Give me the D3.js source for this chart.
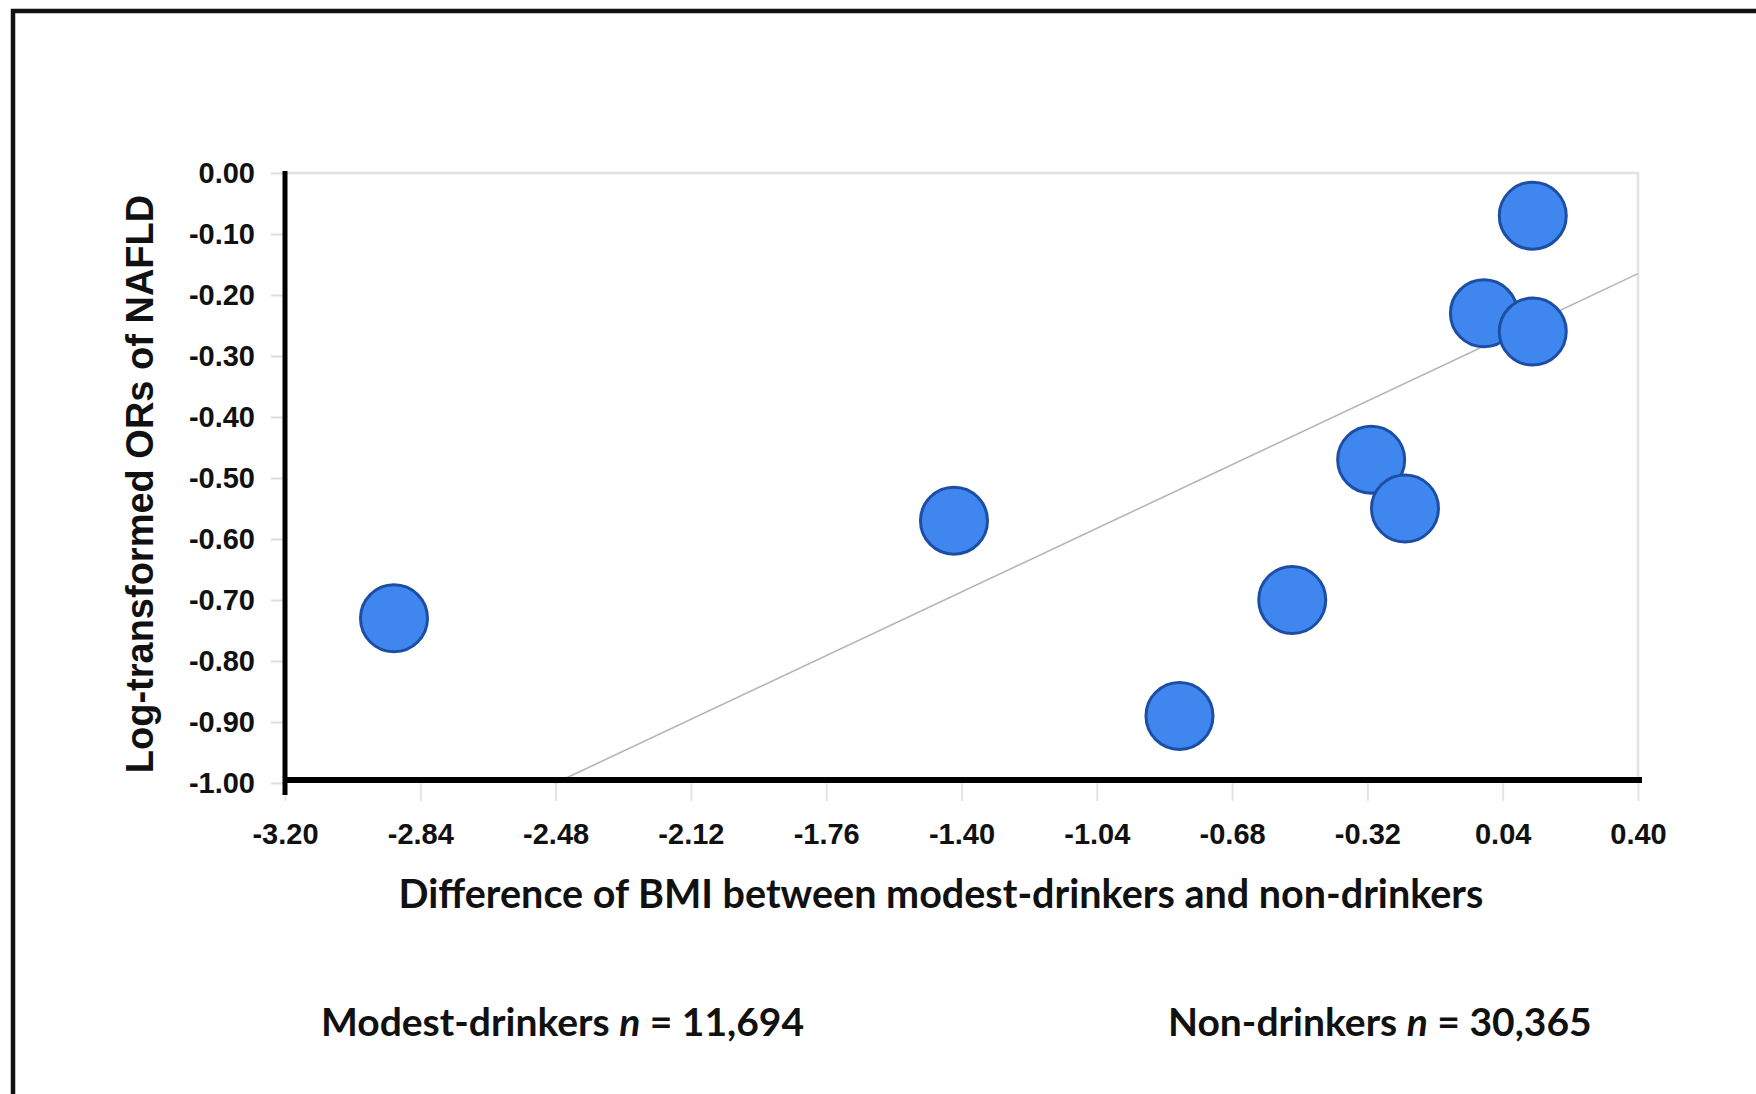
<!DOCTYPE html>
<html><head><meta charset="utf-8">
<script src="https://cdn.jsdelivr.net/npm/d3@7"></script>
<style>html,body{margin:0;padding:0;background:#fff;} svg{display:block}</style>
</head><body><svg id="c" width="1756" height="1094"></svg>
<script>
// ---- data ----
const bmiDiff = [-2.91, -1.42, -0.82, -0.52, -0.31, -0.22, -0.01, 0.12, 0.12];
const logOR   = [-0.73, -0.57, -0.89, -0.70, -0.47, -0.55, -0.23, -0.26, -0.07];
const trendX  = [-2.48, 0.40];
const trendY  = [-1.00, -0.165];
const xTicks = [-3.20, -2.84, -2.48, -2.12, -1.76, -1.40, -1.04, -0.68, -0.32, 0.04, 0.40];
const xTickLabels = ["-3.20","-2.84","-2.48","-2.12","-1.76","-1.40","-1.04","-0.68","-0.32","0.04","0.40"];
const yTicks = [0, -0.1, -0.2, -0.3, -0.4, -0.5, -0.6, -0.7, -0.8, -0.9, -1.0];
const yTickLabels = ["0.00","-0.10","-0.20","-0.30","-0.40","-0.50","-0.60","-0.70","-0.80","-0.90","-1.00"];
const xTitle = "Difference of BMI between modest-drinkers and non-drinkers";
const yTitle = "Log-transformed ORs of NAFLD";
const groupNames = ["Modest-drinkers", "Non-drinkers"];
const groupN = ["11,694", "30,365"];

// ---- layout ----
const svg = d3.select("#c");
const W = 1756, H = 1094;
const L = 285, R = 1638, T = 173, B = 783;
const x = d3.scaleLinear().domain([-3.20, 0.40]).range([L, R]);
const y = d3.scaleLinear().domain([-1.0, 0.0]).range([B, T]);

svg.append("rect").attr("width", W).attr("height", H).attr("fill", "#fff");

// outer frame (top and left visible)
svg.append("path").attr("d", `M13,${H+5} L13,11 L${W+5},11`)
  .attr("fill", "none").attr("stroke", "#111").attr("stroke-width", 4.5);

// plot border (light)
svg.append("path").attr("d", `M${L},${T} L${R},${T} L${R},${B}`)
  .attr("fill", "none").attr("stroke", "#e2e2e2").attr("stroke-width", 2.5);

const tickFont = "'Liberation Sans', Arial, sans-serif";

// y axis
const yAxis = d3.axisLeft(y).tickValues(yTicks)
  .tickFormat((d, i) => yTickLabels[i]).tickSize(14).tickPadding(16);
const gy = svg.append("g").attr("transform", `translate(${L},0)`).call(yAxis);
gy.select(".domain").remove();
gy.selectAll(".tick line").attr("stroke", "#dcdcdc").attr("stroke-width", 2);
gy.selectAll(".tick text").attr("font-family", tickFont).attr("font-weight", "bold")
  .attr("font-size", 29).attr("fill", "#111");

// x axis
const xAxis = d3.axisBottom(x).tickValues(xTicks)
  .tickFormat((d, i) => xTickLabels[i]).tickSize(18).tickPadding(22);
const gx = svg.append("g").attr("transform", `translate(0,${B})`).call(xAxis);
gx.select(".domain").remove();
gx.selectAll(".tick line").attr("stroke", "#e4e4e4").attr("stroke-width", 2);
gx.selectAll(".tick text").attr("font-family", tickFont).attr("font-weight", "bold")
  .attr("font-size", 29).attr("fill", "#111");

// trend line
svg.append("line")
  .attr("x1", x(trendX[0])).attr("y1", y(trendY[0]))
  .attr("x2", x(trendX[1])).attr("y2", y(trendY[1]))
  .attr("stroke", "#b5b5b5").attr("stroke-width", 1.6);

// axis lines (thick black)
svg.append("line").attr("x1", L).attr("x2", L).attr("y1", T - 2).attr("y2", B + 12)
  .attr("stroke", "#000").attr("stroke-width", 5);
svg.append("line").attr("x1", L - 2).attr("x2", R + 4).attr("y1", B - 3).attr("y2", B - 3)
  .attr("stroke", "#000").attr("stroke-width", 6);

// points
const pts = bmiDiff.map((d, i) => ({x: d, y: logOR[i]}));
svg.append("g").selectAll("circle").data(pts).join("circle")
  .attr("cx", d => x(d.x)).attr("cy", d => y(d.y)).attr("r", 33.5)
  .attr("fill", "#3f87ee").attr("stroke", "#1c4ea6").attr("stroke-width", 3);

// titles
svg.append("text").attr("transform", "translate(153,484) rotate(-90)")
  .attr("text-anchor", "middle").attr("font-family", tickFont).attr("font-weight", "bold")
  .attr("font-size", 38).attr("fill", "#111").text(yTitle);

const titleFont = "Lato, 'Open Sans', sans-serif";
svg.append("text").attr("x", 941).attr("y", 908).attr("text-anchor", "middle")
  .attr("font-family", titleFont).attr("font-weight", "bold").attr("font-size", 39.5)
  .attr("fill", "#111").text(xTitle);

// group sizes
const groupX = [321, 1168];
groupNames.forEach((g, i) => {
  const t = svg.append("text").attr("x", groupX[i]).attr("y", 1036)
    .attr("font-family", titleFont).attr("font-weight", "bold").attr("font-size", 39).attr("fill", "#111");
  t.append("tspan").text(g + " ");
  t.append("tspan").attr("font-style", "italic").text("n");
  t.append("tspan").text(" = " + groupN[i]);
});
</script>
</body></html>
